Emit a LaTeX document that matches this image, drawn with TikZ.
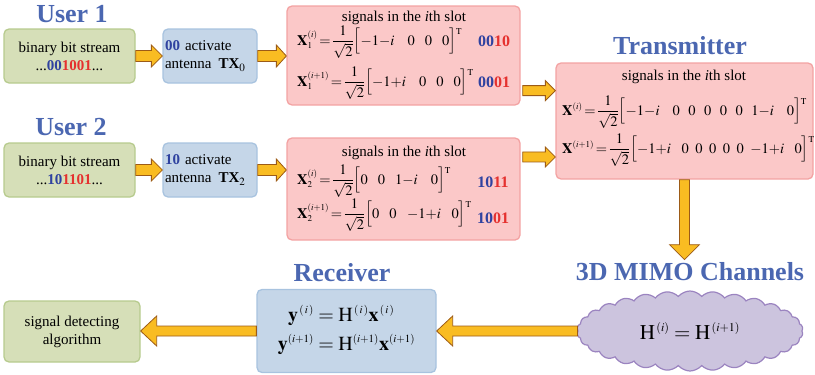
\documentclass[tikz,border=0pt]{standalone}
\usepackage{amsmath}
\usepackage{mathptmx}
\usepackage[no-math]{fontspec}
\setmainfont{Liberation Serif}
\usetikzlibrary{shapes.symbols,calc}
\DeclareMathSizes{14.5}{14.5}{9}{7}
\DeclareMathSizes{20}{20}{11}{8}
\DeclareMathSizes{21}{21}{12}{9}
\definecolor{gfill}{HTML}{D6DFB8}
\definecolor{gdraw}{HTML}{B7CB8E}
\definecolor{bfill}{HTML}{C5D6E8}
\definecolor{bdraw}{HTML}{A8C3DF}
\definecolor{pfill}{HTML}{FBC8C8}
\definecolor{pdraw}{HTML}{F3A3A3}
\definecolor{afill}{HTML}{F9BC22}
\definecolor{adraw}{HTML}{9C5B17}
\definecolor{tblue}{HTML}{4B67B1}
\definecolor{bitblue}{HTML}{2F42A0}
\definecolor{bitred}{HTML}{E5312F}
\definecolor{cfill}{HTML}{CCC4DE}
\definecolor{cdraw}{HTML}{9B84C0}
\newcommand\bb[1]{\textcolor{bitblue}{\textbf{#1}}}
\newcommand\br[1]{\textcolor{bitred}{\textbf{#1}}}
\newcommand\zg{\hspace{10pt}}
\newcommand\cg{\hspace{13pt}}
\newcommand\tzg{\hspace{8.5pt}}
\newcommand\uzg{\hspace{6.5pt}}
\newcommand\ucg{\hspace{10.5pt}}
\newcommand\eqs{\mkern2mu{=}\mkern2mu}
\newcommand\vT{^{\raisebox{-3pt}{$\scriptstyle\mathrm{T}$}}}
\newcommand\harrow[5]{\draw[barrow] let \p1=#1, \p2=#2 in
  (\x1,{\y1+#3}) -- ({\x2-(#5)},{\y1+#3}) -- ({\x2-(#5)},{\y1+#4}) -- (\x2,\y1)
  -- ({\x2-(#5)},{\y1-#4}) -- ({\x2-(#5)},{\y1-#3}) -- (\x1,{\y1-#3}) -- cycle;}
\newcommand\varrow[5]{\draw[barrow] let \p1=#1, \p2=#2 in
  ({\x1+#3},\y1) -- ({\x1+#3},{\y2+#5}) -- ({\x1+#4},{\y2+#5}) -- (\x1,\y2)
  -- ({\x1-#4},{\y2+#5}) -- ({\x1-#3},{\y2+#5}) -- ({\x1-#3},\y1) -- cycle;}
\tikzset{
  box/.style={rounded corners=5pt, line width=1.3pt, inner sep=2pt, align=center,
    font=\fontsize{15}{18}\selectfont},
  gbox/.style={box, fill=gfill, draw=gdraw},
  bbox/.style={box, fill=bfill, draw=bdraw},
  pbox/.style={box, fill=pfill, draw=pdraw},
  title/.style={font=\fontsize{26}{30}\selectfont\bfseries, text=tblue, inner sep=0pt},
  txt/.style={font=\fontsize{15}{18}\selectfont, inner sep=0pt},
  eqn/.style={font=\fontsize{14.5}{16}\selectfont, inner sep=0pt, anchor=west},
  bits/.style={font=\fontsize{16}{18}\selectfont, inner sep=0pt},
  barrow/.style={fill=afill, draw=adraw, line width=0.8pt, line join=miter},
}
\begin{document}
\begin{tikzpicture}[x=1pt,y=-1pt]
\useasboundingbox (0,0) rectangle (815,375);
% User 1 row
\node[title] (u1) at (72,14) {User 1};
\node[gbox, minimum width=131, minimum height=54] (g1) at (69.5,56)
  {binary bit stream\\...\bb{00}\br{1001}...};
\node[bbox, minimum width=94, minimum height=54, text width=90, align=left] (b1) at (210,56)
  {\bb{00} activate\\antenna\hspace{7pt}\textbf{TX}$_{0}$};
\node[pbox, minimum width=233, minimum height=99] (p1) at (403.5,55.5) {};
\node[txt] (p1t) at (404,18) {signals in the \textit{i}th slot};
\node[eqn] (p1e1) at (297,42) {$\displaystyle\mathbf{X}_{1}^{(i)}\eqs\frac{1}{\sqrt{2}}\Bigl[-1{-}i\cg 0\zg 0\zg 0\Bigr]\vT$};
\node[eqn] (p1e2) at (297,83) {$\displaystyle\mathbf{X}_{1}^{(i+1)}\eqs\frac{1}{\sqrt{2}}\Bigl[-1{+}i\cg 0\zg 0\zg 0\Bigr]\vT$};
\node[bits] (p1b1) at (494,41) {\bb{00}\br{10}};
\node[bits] (p1b2) at (494,82) {\bb{00}\br{01}};
% User 2 row
\node[title] (u2) at (71,127) {User 2};
\node[gbox, minimum width=131, minimum height=54] (g2) at (69.5,170)
  {binary bit stream\\...\bb{10}\br{1101}...};
\node[bbox, minimum width=94, minimum height=54, text width=90, align=left] (b2) at (210,170)
  {\bb{10} activate\\antenna\hspace{7pt}\textbf{TX}$_{2}$};
\node[pbox, minimum width=233, minimum height=102] (p2) at (403.5,189) {};
\node[txt] (p2t) at (404,153) {signals in the \textit{i}th slot};
\node[eqn] (p2e1) at (297,181) {$\displaystyle\mathbf{X}_{2}^{(i)}\eqs\frac{1}{\sqrt{2}}\Bigl[0\zg 0\zg 1{-}i\cg 0\Bigr]\vT$};
\node[eqn] (p2e2) at (297,215) {$\displaystyle\mathbf{X}_{2}^{(i+1)}\eqs\frac{1}{\sqrt{2}}\Bigl[0\zg 0\ucg {-}1{+}i\ucg 0\Bigr]\vT$};
\node[bits] (p2b1) at (493,182) {\bb{10}\br{11}};
\node[bits] (p2b2) at (493,218) {\bb{10}\br{01}};
% Transmitter
\node[title] (tt) at (680,46) {Transmitter};
\node[pbox, minimum width=257, minimum height=116] (tr) at (684.5,121) {};
\node[txt] (trt) at (684,77) {signals in the \textit{i}th slot};
\node[eqn] (tre1) at (562,112) {$\displaystyle\mathbf{X}^{(i)}\eqs\frac{1}{\sqrt{2}}\Bigl[-1{-}i\cg 0\tzg 0\tzg 0\tzg 0\tzg 0\tzg 1{-}i\cg 0\Bigr]\vT$};
\node[eqn] (tre2) at (562,150) {$\displaystyle\mathbf{X}^{(i+1)}\eqs\frac{1}{\sqrt{2}}\Bigl[-1{+}i\ucg 0\uzg 0\uzg 0\uzg 0\uzg 0\uzg {-}1{+}i\ucg 0\Bigr]\vT$};
% Channel
\node[title] (mimo) at (690,272) {3D MIMO Channels};
\node[cloud, cloud puffs=30, cloud puff arc=100, aspect=2.8, fill=cfill, draw=cdraw,
  line width=1.2pt, minimum width=226, minimum height=80, inner sep=0pt,
  font=\fontsize{21}{24}\selectfont] (cl) at (690,331) {$\mathrm{H}^{\,(i)}=\mathrm{H}^{\,(i{+}1)}$};
% Receiver
\node[title] (rxt) at (342,273) {Receiver};
\node[bbox, minimum width=179, minimum height=83] (rx) at (346.5,331)
  {\fontsize{20}{24}\selectfont$\begin{aligned}\mathbf{y}^{\,(\,i\,)}&=\mathrm{H}^{\,(\,i\,)}\mathbf{x}^{\,(\,i\,)}\\[2pt]
   \mathbf{y}^{(i{+}1)}&=\mathrm{H}^{(i{+}1)}\mathbf{x}^{(i{+}1)}\end{aligned}$};
\node[gbox, minimum width=136, minimum height=61] (g3) at (72,331.5)
  {signal detecting\\algorithm};
% Arrows
\harrow{(g1.east)}{(b1.west)}{5.5pt}{11pt}{11pt}
\harrow{(b1.east)}{(p1.west)}{5.5pt}{11pt}{10pt}
\harrow{(g2.east)}{(b2.west)}{5.5pt}{11pt}{11pt}
\harrow{(b2.east)}{(p2.west)}{5.5pt}{11pt}{10pt}
\coordinate (a1) at ($(p1.north east)!0.85!(p1.south east)+(2,0)$);
\coordinate (a2) at ($(p2.north east)!0.19!(p2.south east)+(2,0)$);
\harrow{(a1)}{(tr.west)}{5pt}{10pt}{10pt}
\harrow{(a2)}{(tr.west)}{5pt}{10pt}{10pt}
\varrow{(tr.south)}{($(mimo.north)+(0,-3)$)}{5pt}{15pt}{15pt}
\harrow{(cl.west)}{(rx.east)}{5pt}{15pt}{-16pt}
\harrow{(rx.west)}{(g3.east)}{5pt}{15pt}{-16pt}
\end{tikzpicture}
\end{document}
